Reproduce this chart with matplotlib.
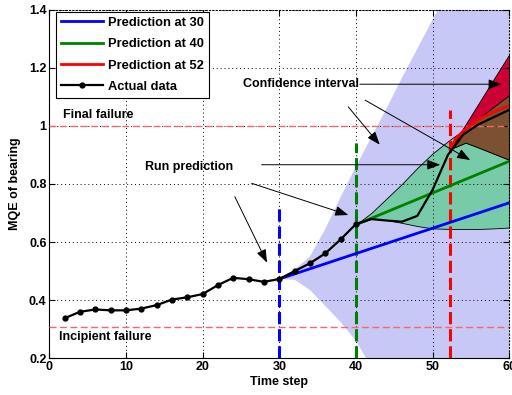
import numpy as np
import matplotlib
matplotlib.use("Agg")
import matplotlib.pyplot as plt
from matplotlib.ticker import FormatStrFormatter

plt.rcParams["font.family"] = ["Liberation Sans", "DejaVu Sans"]
plt.rcParams["font.weight"] = "bold"
plt.rcParams["font.size"] = 9

# ------------------------------------------------------------
# Datos
# ------------------------------------------------------------
actual_t = [2, 4, 6, 8, 10, 12, 14, 16, 18, 20, 22, 24, 26, 28, 30,
            32, 34, 36, 38, 40, 42, 44, 46, 48, 50, 52, 54, 56, 58, 60]
actual_mqe = [0.338, 0.360, 0.368, 0.365, 0.365, 0.371, 0.383, 0.402, 0.410, 0.421,
              0.452, 0.477, 0.472, 0.463, 0.473, 0.500, 0.527, 0.561, 0.609, 0.662,
              0.679, 0.674, 0.670, 0.690, 0.780, 0.900, 0.970, 1.005, 1.030, 1.055]

# prediccion desde t=30
pred30_t = [30, 60]
pred30_y = [0.473, 0.735]
ci30_t = [30, 32, 34, 36, 38, 40, 42, 44, 46, 48, 50, 52, 60]
ci30_lo = [0.473, 0.470, 0.435, 0.380, 0.325, 0.260, 0.170, 0.080, 0.0, 0.0, 0.0, 0.0, 0.0]
ci30_hi = [0.473, 0.505, 0.550, 0.645, 0.755, 0.860, 0.960, 1.060, 1.165, 1.265, 1.365, 1.465, 1.900]

# prediccion desde t=40
pred40_t = [40, 60]
pred40_y = [0.660, 0.878]
ci40_t = [40, 42, 44, 46, 48, 50, 52.3, 54.3, 56, 58, 60]
ci40_lo = [0.660, 0.680, 0.676, 0.666, 0.655, 0.647, 0.645, 0.645, 0.645, 0.647, 0.650]
ci40_hi = [0.660, 0.700, 0.750, 0.800, 0.855, 0.905, 0.953, 0.990, 1.025, 1.066, 1.106]

# prediccion desde t=52
pred52_t = [52.3, 53, 54, 56, 58, 60]
pred52_y = [0.920, 0.955, 0.982, 1.022, 1.048, 1.070]
ci52_t = [52.3, 54.3, 56, 58, 60]
ci52_lo = [0.920, 0.942, 0.925, 0.904, 0.883]
ci52_hi = [0.920, 1.005, 1.077, 1.162, 1.246]

final_failure = 1.0
incipient_failure = 0.309

# ------------------------------------------------------------
# Figura
# ------------------------------------------------------------
fig = plt.figure(figsize=(5.12, 3.95), dpi=100)
ax = fig.add_axes([0.0963, 0.0929, 0.8984, 0.883])

lavanda = "#c8c8f6"
verde_ci = "#78cba8"
rojo_ci = "#cc0033"
cafe = "#7b5132"

ax.fill_between(ci30_t, ci30_lo, ci30_hi, color=lavanda, lw=0, zorder=0.5)
ax.fill_between(ci40_t, ci40_lo, ci40_hi, facecolor=verde_ci, edgecolor="k", lw=0.6, zorder=0.6)
ax.fill_between(ci52_t, ci52_lo, ci52_hi, facecolor=rojo_ci, edgecolor="k", lw=0.6, zorder=0.7)

# zona donde se traslapan los intervalos de 40 y 52
g_hi = np.array(ci40_hi[-len(ci52_t):])
r_lo = np.array(ci52_lo)
r_hi = np.array(ci52_hi)
top = np.minimum(g_hi, r_hi)
ax.fill_between(ci52_t, r_lo, top, where=top >= r_lo, interpolate=True,
                facecolor=cafe, edgecolor="k", lw=0.6, zorder=0.8)

# umbrales
ax.axhline(final_failure, color="#f06a6a", lw=1, ls=(0, (5, 2.5)), zorder=3)
ax.axhline(incipient_failure, color="#f06a6a", lw=1, ls=(0, (5, 2.5)), zorder=3)

# lineas verticales de inicio de prediccion
ax.plot([30, 30], [0.2, 0.716], color="#0000ff", lw=2.2, ls=(0, (4, 1.6)), zorder=3)
ax.plot([40, 40], [0.2, 0.94], color="#008000", lw=2.2, ls=(0, (4, 1.6)), zorder=3)
ax.plot([52.3, 52.3], [0.2, 1.054], color="#ff0000", lw=2.2, ls=(0, (4, 1.6)), zorder=3)

l30, = ax.plot(pred30_t, pred30_y, color="#0000ff", lw=2, zorder=3.5, label="Prediction at 30")
l40, = ax.plot(pred40_t, pred40_y, color="#008000", lw=2, zorder=3.5, label="Prediction at 40")
l52, = ax.plot(pred52_t, pred52_y, color="#ff0000", lw=2, zorder=3.5, label="Prediction at 52")
lact, = ax.plot(actual_t, actual_mqe, color="k", lw=1.6, marker="o", ms=3.5, zorder=4,
                markevery=list(range(20)), label="Actual data")

# textos
ax.text(1.8, 1.037, "Final failure", ha="left", va="center", fontsize=9, fontweight="bold")
ax.text(1.2, 0.272, "Incipient failure", ha="left", va="center", fontsize=9, fontweight="bold")
ax.text(18.2, 0.859, "Run prediction", ha="center", va="center", fontsize=9, fontweight="bold")
ax.text(32.8, 1.143, "Confidence interval", ha="center", va="center", fontsize=9, fontweight="bold")

flechas = [
    ((24.2, 0.756), (28.4, 0.529)),
    ((26.4, 0.802), (39.0, 0.693)),
    ((27.7, 0.866), (51.0, 0.866)),
    ((40.5, 1.143), (59.0, 1.143)),
    ((39.0, 1.065), (43.1, 0.935)),
    ((41.2, 1.088), (54.9, 0.882)),
]
for ini, fin in flechas:
    ax.annotate("", xy=fin, xytext=ini, zorder=5,
                arrowprops=dict(arrowstyle="-|>,head_length=0.8,head_width=0.3",
                                color="k", lw=0.7, mutation_scale=10,
                                shrinkA=0, shrinkB=0))

# ejes
ax.set_xlim(0, 60)
ax.set_ylim(0.2, 1.4)
ax.set_xticks([0, 10, 20, 30, 40, 50, 60])
ax.set_yticks([0.2, 0.4, 0.6, 0.8, 1.0, 1.2, 1.4])
ax.yaxis.set_major_formatter(FormatStrFormatter("%g"))
ax.set_axisbelow(False)
ax.grid(True, color="k", ls=(0, (1, 3)), lw=0.7)
ax.tick_params(direction="in", top=True, right=True, length=4, width=0.8, labelsize=9, pad=2)
for lab in ax.get_xticklabels() + ax.get_yticklabels():
    lab.set_fontweight("bold")
for side in ["top", "right"]:
    ax.spines[side].set_linestyle((0, (1, 2)))
for side in ax.spines:
    ax.spines[side].set_linewidth(0.8)

ax.set_xlabel("Time step", fontsize=9, fontweight="bold", labelpad=2)
ax.set_ylabel("MQE of bearing", fontsize=9, fontweight="bold", labelpad=6)

leg = ax.legend(handles=[l30, l40, l52, lact], loc="upper left",
                bbox_to_anchor=(0.0146, 0.9937), borderaxespad=0,
                fancybox=False, framealpha=1, edgecolor="k",
                handlelength=3.2, handletextpad=0.45, labelspacing=0.72,
                borderpad=0.4, prop={"weight": "bold", "size": 9.3})
leg.get_frame().set_linewidth(0.8)
leg.set_zorder(6)

fig.savefig("out.png", dpi=100)
